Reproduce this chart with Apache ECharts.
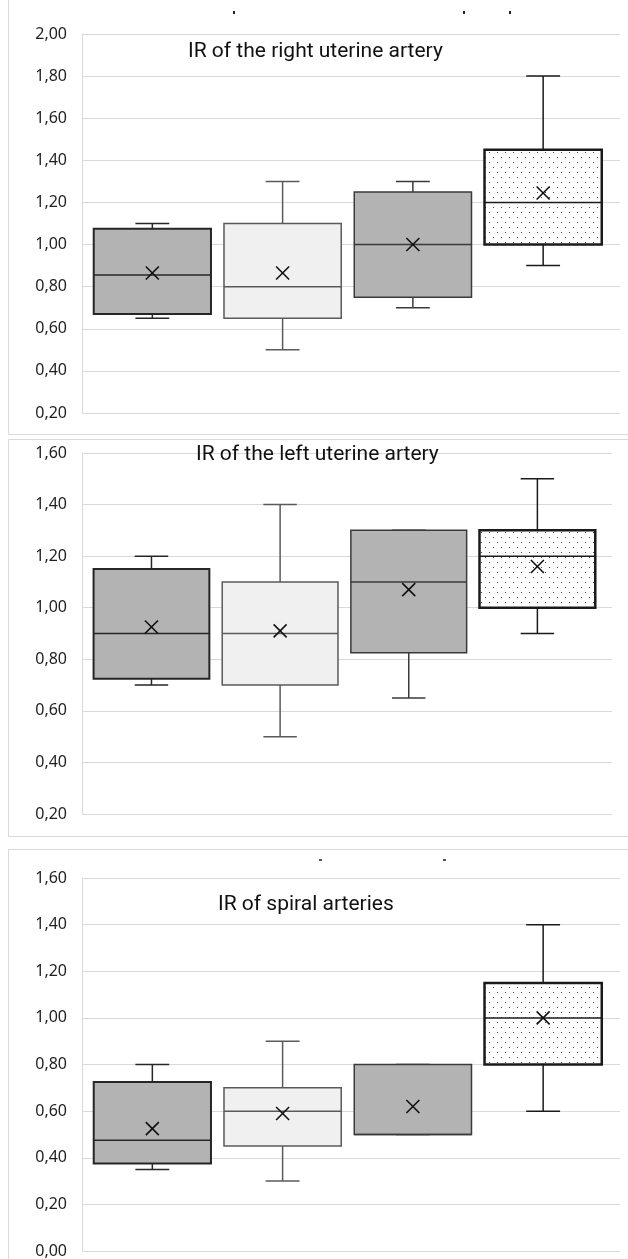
<!DOCTYPE html>
<html>
<head>
<meta charset="utf-8">
<script src="https://cdn.jsdelivr.net/npm/echarts@6/dist/echarts.min.js"></script>
<style>
  html, body { margin: 0; padding: 0; background: #fff; }
  #chart { width: 628px; height: 1259px; }
</style>
</head>
<body>
<div id="chart"></div>
<script>
// four groups per panel
const groups = [0, 1, 2, 3];

// [min, q1, median, q3, max]
const rightBoxes = [
  [0.65, 0.67, 0.855, 1.075, 1.10],
  [0.50, 0.65, 0.80, 1.10, 1.30],
  [0.70, 0.75, 1.00, 1.25, 1.30],
  [0.90, 1.00, 1.20, 1.45, 1.80],
];
const rightMeans = [0.865, 0.865, 1.00, 1.245];

const leftBoxes = [
  [0.70, 0.725, 0.90, 1.15, 1.20],
  [0.50, 0.70, 0.90, 1.10, 1.40],
  [0.65, 0.825, 1.10, 1.30, 1.30],
  [0.90, 1.00, 1.20, 1.30, 1.50],
];
const leftMeans = [0.925, 0.91, 1.07, 1.16];

const spiralBoxes = [
  [0.35, 0.375, 0.475, 0.725, 0.80],
  [0.30, 0.45, 0.60, 0.70, 0.90],
  [0.50, 0.50, 0.50, 0.80, 0.80],
  [0.60, 0.80, 1.00, 1.15, 1.40],
];
const spiralMeans = [0.525, 0.59, 0.62, 1.00];

const titles = ['IR of the right uterine artery', 'IR of the left uterine artery', 'IR of spiral arteries'];

// dotted fill for the last box
const dots = document.createElement('canvas');
dots.width = 8;
dots.height = 10;
const dctx = dots.getContext('2d');
dctx.fillStyle = '#fff';
dctx.fillRect(0, 0, 8, 10);
dctx.fillStyle = '#444';
dctx.fillRect(1, 2, 1, 1);
dctx.fillRect(5, 7, 1, 1);

const boxStyles = [
  { fill: '#b3b3b3', stroke: '#262626', width: 2 },
  { fill: '#f0f0f0', stroke: '#5a5a5a', width: 1.5 },
  { fill: '#b3b3b3', stroke: '#3a3a3a', width: 1.5 },
  { fill: { image: dots, repeat: 'repeat' }, stroke: '#1a1a1a', width: 2.5 },
];

function toRows(boxes, means) {
  return groups.map((g, i) => [g].concat(boxes[i], [means[i]]));
}

function renderBox(params, api) {
  const x = api.value(0);
  const st = boxStyles[params.dataIndex];
  const y = (i) => api.coord([x, api.value(i)])[1];
  const cx = api.coord([x, 0])[0];
  const unit = api.size([1, 0])[0];
  const half = unit * 0.45;
  const cap = unit * 0.13;
  const yMin = y(1), yQ1 = y(2), yMed = y(3), yQ3 = y(4), yMax = y(5), yMean = y(6);
  const line = (x1, y1, x2, y2, stroke, w) => ({
    type: 'line',
    shape: { x1, y1, x2, y2 },
    style: { stroke, lineWidth: w },
  });
  const ws = st.stroke;
  const m = 6.5;
  return {
    type: 'group',
    children: [
      line(cx, yMax, cx, yQ3, ws, 1.5),
      line(cx - cap, yMax, cx + cap, yMax, ws, 1.5),
      line(cx, yQ1, cx, yMin, ws, 1.5),
      line(cx - cap, yMin, cx + cap, yMin, ws, 1.5),
      {
        type: 'rect',
        shape: { x: cx - half, y: yQ3, width: half * 2, height: yQ1 - yQ3 },
        style: { fill: st.fill, stroke: st.stroke, lineWidth: st.width },
      },
      line(cx - half, yMed, cx + half, yMed, st.stroke, 1.5),
      line(cx - m, yMean - m, cx + m, yMean + m, '#111', 1.6),
      line(cx - m, yMean + m, cx + m, yMean - m, '#111', 1.6),
    ],
  };
}

const panels = [
  { rows: toRows(rightBoxes, rightMeans), min: 0.2, max: 2.0, grid: { left: 82, top: 34, width: 538, height: 379 } },
  { rows: toRows(leftBoxes, leftMeans), min: 0.2, max: 1.6, grid: { left: 82, top: 453, width: 530, height: 361 } },
  { rows: toRows(spiralBoxes, spiralMeans), min: 0.0, max: 1.6, grid: { left: 82, top: 878, width: 538, height: 374 } },
];

const chart = echarts.init(document.getElementById('chart'));

const labelFont = { color: '#1f1f1f', fontSize: 16, fontFamily: 'Noto Sans' };

const option = {
  animation: false,
  backgroundColor: '#fff',
  grid: panels.map((p) => p.grid),
  xAxis: panels.map((p, i) => ({
    type: 'value',
    gridIndex: i,
    min: -0.54,
    max: i === 1 ? 3.58 : 3.59,
    axisLine: { show: false },
    axisTick: { show: false },
    axisLabel: { show: false },
    splitLine: { show: false },
  })),
  yAxis: panels.map((p, i) => ({
    type: 'value',
    gridIndex: i,
    min: p.min,
    max: p.max,
    interval: 0.2,
    axisLine: { show: true, onZero: false, lineStyle: { color: '#d9d9d9', width: 1 } },
    axisTick: { show: false },
    axisLabel: {
      ...labelFont,
      margin: 15,
      formatter: (v) => v.toFixed(2).replace('.', ','),
    },
    splitLine: { show: true, lineStyle: { color: '#d9d9d9', width: 1 } },
  })),
  series: panels.map((p, i) => ({
    type: 'custom',
    xAxisIndex: i,
    yAxisIndex: i,
    encode: { x: 0, y: [1, 2, 3, 4, 5, 6] },
    renderItem: renderBox,
    data: p.rows,
    z: 3,
  })),
  graphic: [
    // panel frames
    { type: 'rect', shape: { x: 8.5, y: -20, width: 700, height: 454.5 }, style: { fill: 'none', stroke: '#d9d9d9', lineWidth: 1 }, z: -1 },
    { type: 'rect', shape: { x: 8.5, y: 439.5, width: 700, height: 397 }, style: { fill: 'none', stroke: '#d9d9d9', lineWidth: 1 }, z: -1 },
    { type: 'rect', shape: { x: 8.5, y: 849.5, width: 700, height: 450 }, style: { fill: 'none', stroke: '#d9d9d9', lineWidth: 1 }, z: -1 },
    // leftover marks cut from the source figure
    { type: 'rect', shape: { x: 233, y: 11, width: 2, height: 3 }, style: { fill: '#222' } },
    { type: 'rect', shape: { x: 463, y: 11, width: 2, height: 3 }, style: { fill: '#222' } },
    { type: 'rect', shape: { x: 509, y: 11, width: 2, height: 3 }, style: { fill: '#222' } },
    { type: 'rect', shape: { x: 319, y: 859, width: 3, height: 2 }, style: { fill: '#555' } },
    { type: 'rect', shape: { x: 443, y: 859, width: 3, height: 2 }, style: { fill: '#555' } },
    // titles
    ...[[188, 52], [196, 455], [218, 905]].map((pos, i) => ({
      type: 'text',
      x: pos[0],
      y: pos[1],
      z: 10,
      style: {
        text: titles[i],
        font: '21px Roboto',
        fill: '#111',
        verticalAlign: 'middle',
      },
    })),
  ],
};

chart.setOption(option);
</script>
</body>
</html>
